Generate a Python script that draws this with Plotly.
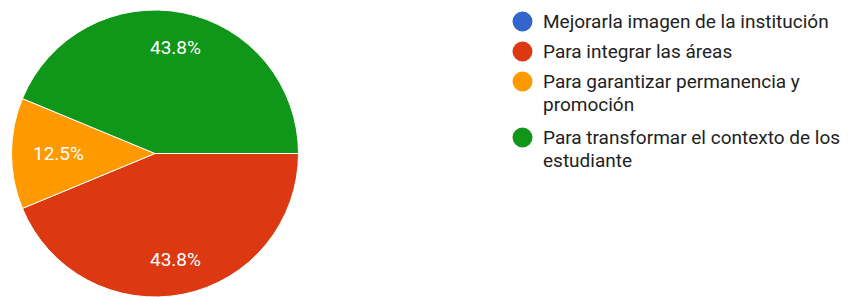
import math
import plotly.graph_objects as go

labels = ["Mejorarla imagen de la institución", "Para integrar las áreas",
          "Para garantizar permanencia y promoción", "Para transformar el contexto de los estudiante"]
legend_lines = [["Mejorarla imagen de la institución"], ["Para integrar las áreas"],
                ["Para garantizar permanencia y", "promoción"],
                ["Para transformar el contexto de los", "estudiante"]]
values = [0, 7, 2, 7]
colors = ["#3366CC", "#DC3912", "#FF9900", "#109618"]

# page body has an 8px margin, so the figure is drawn slightly smaller
W, H = 840, 289
px0, px1 = 2, 292          # pie horizontal extent in figure px
py_top = 2                 # pie top in figure px
dom_x = [px0 / W, px1 / W]
dom_y = [0, 1 - py_top / H]
radius = min(px1 - px0, H * (dom_y[1] - dom_y[0])) / 2
cx = (px0 + px1) / 2
cy_from_bottom = H * (dom_y[0] + dom_y[1]) / 2

fig = go.Figure()
fig.add_trace(go.Pie(
    labels=labels, values=values, sort=False, direction="clockwise", rotation=90,
    marker=dict(colors=colors, line=dict(color="white", width=1)),
    textinfo="none", textposition="none",
    domain=dict(x=dom_x, y=dom_y),
    showlegend=False, hoverinfo="label+percent",
))

annotations = []
shapes = []
# percentage labels placed Google-Charts style
total = sum(values)
cum = 0
for v in values:
    if v > 0:
        frac = v / total
        mid = (cum + v / 2) / total * 2 * math.pi  # clockwise from 3 o'clock
        f = 0.75 if frac > 0.2 else 0.67
        x = cx + radius * f * math.cos(mid)
        y = cy_from_bottom - radius * f * math.sin(mid)
        annotations.append(dict(x=x / W, y=y / H, xref="paper", yref="paper",
                                text=f"{frac * 100:.1f}%", showarrow=False,
                                xanchor="center", yanchor="middle",
                                font=dict(family="Roboto", size=19, color="white")))
    cum += v

# legend (circle + text lines)
leg_x_circle, leg_x_text = 514.5, 533
row_h = 23
yy = 13.5
for lines, c in zip(legend_lines, colors):
    shapes.append(dict(type="circle", xref="paper", yref="paper",
                       x0=(leg_x_circle - 10) / W, x1=(leg_x_circle + 10) / W,
                       y0=1 - (yy + 10) / H, y1=1 - (yy - 10) / H,
                       fillcolor=c, line=dict(width=0)))
    for ln in lines:
        annotations.append(dict(x=leg_x_text / W, y=1 - yy / H, xref="paper", yref="paper",
                                text=ln, showarrow=False, xanchor="left", yanchor="middle",
                                font=dict(family="Roboto", size=19, color="#222222")))
        yy += row_h
    yy += 7 + 3 * (len(lines) - 1)

fig.update_layout(
    width=W, height=H, margin=dict(l=0, r=0, t=0, b=0),
    paper_bgcolor="white", plot_bgcolor="white",
    annotations=annotations, shapes=shapes, showlegend=False,
)
fig.write_html("out.html")
